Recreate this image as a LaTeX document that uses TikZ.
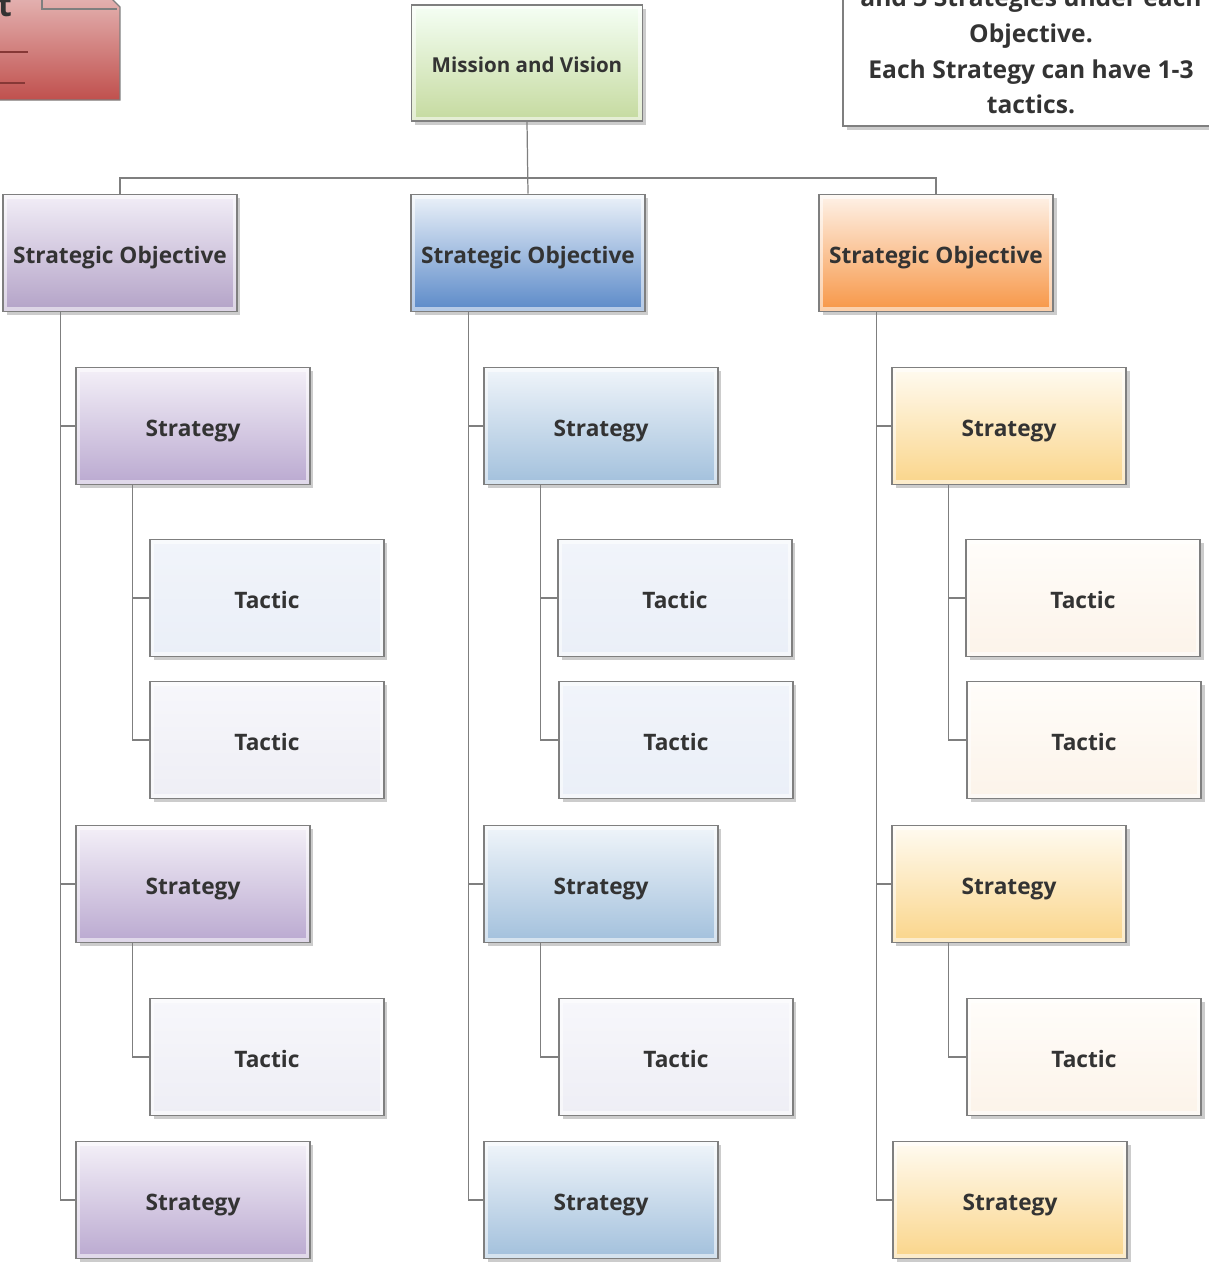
\documentclass[tikz,border=0pt]{standalone}
\usepackage{fontspec}
\setmainfont{Open Sans}
\usetikzlibrary{shadows,positioning}
\definecolor{linegray}{HTML}{7F7F7F}
\definecolor{textgray}{HTML}{333333}
\definecolor{notered}{HTML}{C0504D}
\tikzset{
  box/.style={draw=linegray,line width=0.9pt,minimum width=4.68cm,minimum height=2.34cm,
    font=\bfseries\fontsize{12.9}{15}\selectfont,text=textgray,text height=12pt,text depth=0pt,
    drop shadow={shadow xshift=2pt,shadow yshift=-2pt,opacity=.4},
    path picture={\draw[white,opacity=.55,line width=5pt] (path picture bounding box.south west) rectangle (path picture bounding box.north east);}},
  link/.style={draw=linegray,line width=0.7pt},
  mission/.style={box,top color=green!4!white,bottom color={rgb,255:red,197;green,218;blue,159},minimum width=4.62cm,minimum height=2.32cm,font=\bfseries\fontsize{11.7}{14}\selectfont,text height=11pt},
  objA/.style={box,top color={rgb,255:red,242;green,238;blue,247},bottom color={rgb,255:red,179;green,162;blue,199}},
  objB/.style={box,top color={rgb,255:red,236;green,242;blue,249},bottom color={rgb,255:red,90;green,137;blue,200}},
  objC/.style={box,top color={rgb,255:red,254;green,242;blue,232},bottom color={rgb,255:red,247;green,150;blue,70}},
  stratA/.style={box,top color={rgb,255:red,244;green,240;blue,248},bottom color={rgb,255:red,186;green,169;blue,208}},
  stratB/.style={box,top color={rgb,255:red,240;green,245;blue,250},bottom color={rgb,255:red,162;green,192;blue,220}},
  stratC/.style={box,top color={rgb,255:red,255;green,251;blue,241},bottom color={rgb,255:red,250;green,213;blue,138}},
  tacB/.style={box,top color={rgb,255:red,241;green,244;blue,250},bottom color={rgb,255:red,234;green,239;blue,248}},
  tacA/.style={box,top color={rgb,255:red,247;green,247;blue,251},bottom color={rgb,255:red,238;green,238;blue,245}},
  tacC/.style={box,top color={rgb,255:red,255;green,253;blue,250},bottom color={rgb,255:red,252;green,243;blue,233}},
  notebox/.style={draw=linegray,line width=0.9pt,fill=white,minimum width=7.52cm,minimum height=3cm,
    align=center,font=\bfseries\fontsize{14}{20.4}\selectfont,text=textgray,
    drop shadow={shadow xshift=2pt,shadow yshift=-2pt,opacity=.4}}
}
\begin{document}
\begin{tikzpicture}[x=0.02cm,y=-0.02cm]
\pgfmathsetmacro{\kx}{408}
\pgfmathsetmacro{\ks}{73}
\pgfmathsetmacro{\kt}{147}
\useasboundingbox (0,0) rectangle (1209,1265);
\clip (0,0) rectangle (1209,1265);
% note in the corner
\path[top color=notered!45!white,bottom color=notered,draw=linegray,line width=0.8pt]
  (-40,-1) -- (112,-1) -- (120,7) -- (120,100) -- (-40,100) -- cycle;
\draw[linegray,line width=0.8pt] (42,-1) -- (42,9) -- (117,9);
\draw[notered!70!black,line width=0.6pt] (-5,52) -- (28,52);
\draw[notered!70!black,line width=0.6pt] (-5,83) -- (25,83);
\node[font=\bfseries\fontsize{18}{20}\selectfont,text=textgray,inner sep=0pt] (nt) at (5,6) {t};
\node[notebox] (note) at (1031,51) {and 3 Strategies under each\\Objective.\\Each Strategy can have 1-3\\tactics.};
%
\node[mission] (mv) at (527,63) {Mission and Vision};
%
\node[objA] (o1) at (120,253) {Strategic Objective};
\node[objB] (o2) at (120+\kx,253) {Strategic Objective};
\node[objC] (o3) at (120+2*\kx,253) {Strategic Objective};
%
\node[stratA] (s11) at (120+\ks,426) {Strategy};
\node[stratA] (s12) at (120+\ks,884) {Strategy};
\node[stratA] (s13) at (120+\ks,1200) {Strategy};
\node[tacB] (t111) at (120+\kt,598) {Tactic};
\node[tacA] (t112) at (120+\kt,740) {Tactic};
\node[tacA] (t121) at (120+\kt,1057) {Tactic};
%
\node[stratB] (s21) at (120+\kx+\ks,426) {Strategy};
\node[stratB] (s22) at (120+\kx+\ks,884) {Strategy};
\node[stratB] (s23) at (120+\kx+\ks,1200) {Strategy};
\node[tacB] (t211) at (120+\kx+\kt,598) {Tactic};
\node[tacB] (t212) at (121+\kx+\kt,740) {Tactic};
\node[tacA] (t221) at (121+\kx+\kt,1057) {Tactic};
%
\node[stratC] (s31) at (120+2*\kx+\ks,426) {Strategy};
\node[stratC] (s32) at (120+2*\kx+\ks,884) {Strategy};
\node[stratC] (s33) at (121+2*\kx+\ks,1200) {Strategy};
\node[tacC] (t311) at (120+2*\kx+\kt,598) {Tactic};
\node[tacC] (t312) at (121+2*\kx+\kt,740) {Tactic};
\node[tacC] (t321) at (121+2*\kx+\kt,1057) {Tactic};
%
\coordinate (bus) at (527,178);
\draw[link] (mv.south) -- (o2.north);
\draw[link] (o1.north) |- (bus) -| (o3.north);
%
\draw[link] ([xshift=1.16cm]o1.south west) |- (s11.west);
\draw[link] ([xshift=1.16cm]o1.south west) |- (s12.west);
\draw[link] ([xshift=1.16cm]o1.south west) |- (s13.west);
\draw[link] ([xshift=1.14cm]s11.south west) |- (t111.west);
\draw[link] ([xshift=1.14cm]s11.south west) |- (t112.west);
\draw[link] ([xshift=1.14cm]s12.south west) |- (t121.west);
%
\draw[link] ([xshift=1.16cm]o2.south west) |- (s21.west);
\draw[link] ([xshift=1.16cm]o2.south west) |- (s22.west);
\draw[link] ([xshift=1.16cm]o2.south west) |- (s23.west);
\draw[link] ([xshift=1.14cm]s21.south west) |- (t211.west);
\draw[link] ([xshift=1.14cm]s21.south west) |- (t212.west);
\draw[link] ([xshift=1.14cm]s22.south west) |- (t221.west);
%
\draw[link] ([xshift=1.16cm]o3.south west) |- (s31.west);
\draw[link] ([xshift=1.16cm]o3.south west) |- (s32.west);
\draw[link] ([xshift=1.16cm]o3.south west) |- (s33.west);
\draw[link] ([xshift=1.14cm]s31.south west) |- (t311.west);
\draw[link] ([xshift=1.14cm]s31.south west) |- (t312.west);
\draw[link] ([xshift=1.14cm]s32.south west) |- (t321.west);
\end{tikzpicture}
\end{document}
